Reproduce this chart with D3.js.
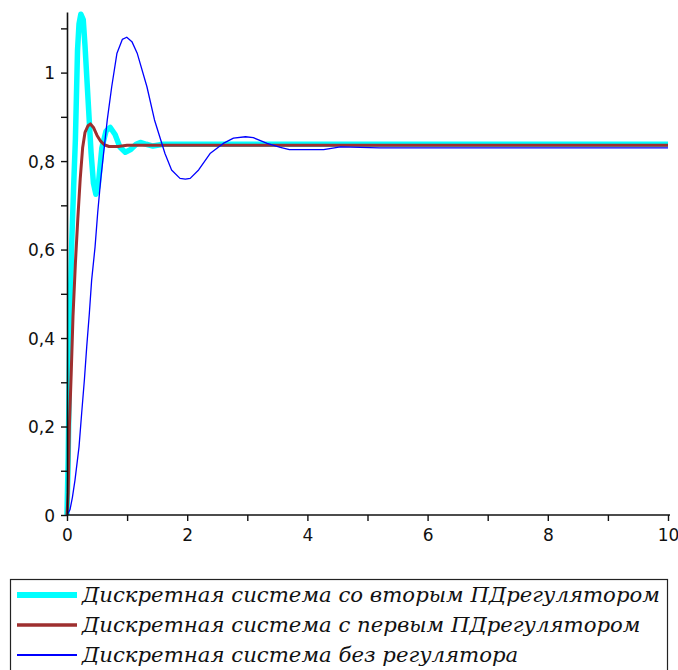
<!DOCTYPE html>
<html>
<head>
<meta charset="utf-8">
<script src="https://cdn.jsdelivr.net/npm/d3@7"></script>
<style>
  html, body { margin: 0; padding: 0; background: #fff; }
  svg { display: block; }
</style>
</head>
<body>
<svg id="chart" width="678" height="670"></svg>
<script>
// step responses: [t, y]
const secondPD = [
  [0, 0], [0.02, 0.13], [0.05, 0.45], [0.08, 0.62], [0.11, 0.74], [0.14, 0.85],
  [0.175, 1.05], [0.2, 1.11], [0.23, 1.132], [0.27, 1.12], [0.3, 1.06], [0.35, 0.94],
  [0.4, 0.82], [0.44, 0.75], [0.48, 0.725], [0.52, 0.745], [0.58, 0.83], [0.65, 0.868],
  [0.72, 0.876], [0.8, 0.86], [0.88, 0.832], [0.97, 0.82], [1.06, 0.826], [1.15, 0.838],
  [1.22, 0.842], [1.32, 0.838], [1.43, 0.834], [1.6, 0.838], [10, 0.838]
];
const firstPD = [
  [0, 0], [0.02, 0.05], [0.04, 0.2], [0.07, 0.32], [0.1, 0.45], [0.14, 0.57],
  [0.18, 0.67], [0.22, 0.76], [0.26, 0.83], [0.3, 0.865], [0.35, 0.88], [0.39, 0.884],
  [0.44, 0.876], [0.5, 0.858], [0.56, 0.845], [0.62, 0.837], [0.7, 0.833], [0.85, 0.833],
  [1.0, 0.836], [10, 0.836]
];
const noRegulator = [
  [0, 0], [0.05, 0.012], [0.09, 0.04], [0.133, 0.079], [0.2, 0.154], [0.244, 0.23],
  [0.289, 0.305], [0.328, 0.38], [0.372, 0.456], [0.41, 0.531], [0.467, 0.606],
  [0.51, 0.682], [0.56, 0.757], [0.67, 0.893], [0.744, 0.968], [0.83, 1.043],
  [0.92, 1.075], [0.994, 1.08], [1.08, 1.07], [1.17, 1.043], [1.33, 0.968],
  [1.456, 0.893], [1.63, 0.817], [1.74, 0.78], [1.88, 0.761], [1.97, 0.759],
  [2.05, 0.761], [2.19, 0.78], [2.38, 0.817], [2.6, 0.84], [2.77, 0.852],
  [2.97, 0.855], [3.1, 0.853], [3.33, 0.84], [3.55, 0.831], [3.7, 0.826],
  [4.27, 0.826], [4.55, 0.832], [5.2, 0.83], [10, 0.83]
];

const xTicks = [0, 1, 2, 3, 4, 5, 6, 7, 8, 9, 10];
const xLabels = [0, 2, 4, 6, 8, 10];
const yTicks = [0, 0.1, 0.2, 0.3, 0.4, 0.5, 0.6, 0.7, 0.8, 0.9, 1.0, 1.1];
const yLabels = [0, 0.2, 0.4, 0.6, 0.8, 1];

const legendNames = [
  'Дискретная система со вторым ПДрегулятором',
  'Дискретная система с первым ПДрегулятором',
  'Дискретная система без регулятора'
];

const series = [
  { data: secondPD,    color: '#00ffff', width: 5.5 },
  { data: firstPD,     color: '#9e2f2f', width: 3 },
  { data: noRegulator, color: '#0000ff', width: 1.3 }
];

const svg = d3.select('#chart');

const x = d3.scaleLinear().domain([0, 10]).range([67, 668]);
const yMax = 1.137;
const y = d3.scaleLinear().domain([0, yMax]).range([515, 12]);

const line = d3.line()
  .x(d => x(d[0]))
  .y(d => y(d[1]));

// curves
series.forEach(s => {
  svg.append('path')
    .datum(s.data)
    .attr('d', line)
    .attr('fill', 'none')
    .attr('stroke', s.color)
    .attr('stroke-width', s.width)
    .attr('stroke-linejoin', 'round');
});

// axes
const xAxis = d3.axisBottom(x)
  .tickValues(xTicks)
  .tickSize(6)
  .tickSizeOuter(0)
  .tickFormat(d => xLabels.includes(d) ? String(d) : '');
const yAxis = d3.axisLeft(y)
  .tickValues(yTicks)
  .tickSize(6)
  .tickSizeOuter(0)
  .tickFormat(d => {
    const v = Math.round(d * 10) / 10;
    return yLabels.includes(v) ? String(v).replace('.', ',') : '';
  });

const gx = svg.append('g').attr('transform', `translate(0,${y(0)})`).call(xAxis);
const gy = svg.append('g').attr('transform', `translate(${x(0)},0)`).call(yAxis);

[gx, gy].forEach(g => {
  g.select('.domain').attr('stroke', '#111').attr('stroke-width', 1.6);
  g.selectAll('.tick line').attr('stroke', '#111').attr('stroke-width', 1.4);
  g.selectAll('.tick text')
    .attr('fill', '#111')
    .attr('font-family', 'DejaVu Sans, sans-serif')
    .attr('font-size', '17px');
});
gx.select('.domain').attr('d', `M${x(0)},0H${x(10) + 2}`);
gx.selectAll('.tick text').attr('y', 14);
gy.selectAll('.tick text').attr('x', -12).attr('dy', '0.36em');

// legend
const legend = svg.append('g');
legend.append('rect')
  .attr('x', 10.5).attr('y', 579.5)
  .attr('width', 657).attr('height', 120)
  .attr('fill', '#fff')
  .attr('stroke', '#222').attr('stroke-width', 1.2);

const rows = legend.selectAll('g.row')
  .data(series.map((s, i) => ({ ...s, name: legendNames[i] })))
  .join('g').attr('class', 'row')
  .attr('transform', (d, i) => `translate(0,${595 + i * 30})`);

rows.append('line')
  .attr('x1', 17).attr('x2', 77)
  .attr('y1', 0).attr('y2', 0)
  .attr('stroke', d => d.color)
  .attr('stroke-width', d => d.width + 0.5);

const texts = rows.append('text')
  .attr('x', 82).attr('y', 7)
  .attr('font-family', 'DejaVu Serif, serif')
  .attr('font-style', 'italic')
  .attr('font-size', '20px')
  .attr('fill', '#111')
  .text(d => d.name);

// fit longest label to the width seen in the picture
const w0 = texts.nodes()[0].getComputedTextLength();
const fs = 20 * 578 / w0;
texts.attr('font-size', fs.toFixed(2) + 'px');
</script>
</body>
</html>
